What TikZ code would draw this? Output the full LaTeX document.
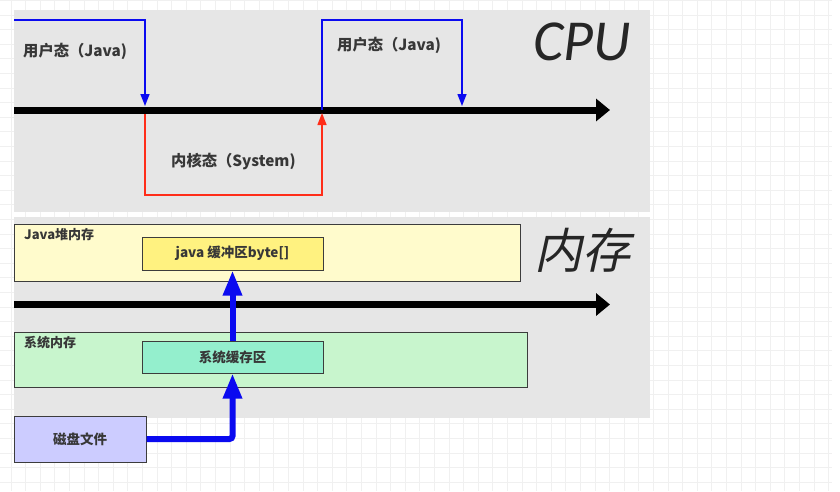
\documentclass[tikz,border=0pt]{standalone}
\usepackage{fontspec}
\setmainfont{Noto Sans CJK SC}
\newfontfamily\titlefont{Carlito}
\newfontfamily\titlecjk{Noto Sans CJK SC}[FakeSlant=0.22]
\usepackage{xcolor}
\usetikzlibrary{arrows.meta,positioning,calc}

\definecolor{panelgray}{RGB}{230,230,230}
\definecolor{gridgray}{RGB}{240,240,240}
\definecolor{labelgray}{RGB}{55,55,55}
\definecolor{userblue}{RGB}{10,10,240}
\definecolor{kernred}{RGB}{255,45,25}
\definecolor{heapyellow}{RGB}{255,251,204}
\definecolor{bufyellow}{RGB}{255,242,128}
\definecolor{sysgreen}{RGB}{200,245,205}
\definecolor{sysaqua}{RGB}{148,239,205}
\definecolor{disklilac}{RGB}{204,204,255}
\definecolor{boxedge}{RGB}{60,60,60}

\begin{document}
\begin{tikzpicture}[x=1pt, y=-1pt, text=labelgray,
        font=\bfseries\fontsize{13.5}{16}\selectfont,
        tag/.style={anchor=west, inner sep=0pt},
        bigtag/.style={tag, font=\bfseries\fontsize{15.3}{18}\selectfont},
        smalltag/.style={tag, font=\bfseries\fontsize{13}{15}\selectfont},
        timeaxis/.style={line width=7pt, -{Triangle[length=14pt,width=22pt]}},
        userline/.style={draw=userblue, line width=1.4pt, -{Triangle[length=12pt,width=9pt]}},
        kernline/.style={draw=kernred, line width=1.4pt, -{Triangle[length=12pt,width=9pt]}},
        membox/.style={draw=boxedge, line width=1pt, inner sep=0pt},
        copyarrow/.style={draw=userblue, line width=6pt, -{Triangle[length=25pt,width=18pt]}}]
        \useasboundingbox (0,0) rectangle (840,491);

        % background grid
        \foreach \k in {0,...,56}
            \draw[gridgray, line width=0.8pt] ({10.9+14.6*\k},0) -- ({10.9+14.6*\k},491);
        \foreach \k in {0,...,33}
            \draw[gridgray, line width=0.8pt] (0,{0.4+14.6*\k}) -- (832,{0.4+14.6*\k});

        % panels
        \fill[panelgray] (14,10) rectangle (650,212);
        \fill[panelgray] (14,217) rectangle (650,418);

        % CPU
        \coordinate (cpustart) at (14,110);
        \coordinate (cpuend) at (610,110);
        \draw[timeaxis] (cpustart) -- (cpuend);
        \node[font=\mdseries\titlefont\itshape\fontsize{58}{60}\selectfont, text=black!85] (cpu) at (582,42) {CPU};

        \coordinate (u1start) at (14,20);
        \coordinate (sw1top) at (145,106);
        \coordinate (sw1bot) at (145,114);
        \coordinate (kfloor) at (322,195);
        \coordinate (sw2bot) at (322,113);
        \coordinate (sw2top) at (322,110);
        \coordinate (uroof) at (462,20);
        \coordinate (sw3top) at (462,106);

        \draw[userline] (u1start) -| (sw1top);
        \draw[kernline] (sw1bot) |- (kfloor) -- (sw2bot);
        \draw[userline] (sw2top) |- (uroof) -- (sw3top);

        \node[bigtag] (user1) at (23,51) {用户态（Java)};
        \node[bigtag] (user2) at (337,45) {用户态（Java)};
        \node[bigtag] (kern) at (171,162) {内核态（System)};

        % Memory
        \coordinate (memstart) at (14,304.5);
        \coordinate (memend) at (610,304.5);
        \draw[timeaxis] (memstart) -- (memend);
        \node[font=\mdseries\titlecjk\fontsize{48}{50}\selectfont, text=black!85] (memtitle) at (582,250) {内存};

        \node[membox, fill=heapyellow, minimum width=506pt, minimum height=57pt] (heap) at (267,252.5) {};
        \node[smalltag] (heaplbl) at (24,235) {Java堆内存};
        \node[membox, fill=bufyellow, minimum width=181pt, minimum height=33pt] (jbuf) at (232.5,253.5) {java 缓冲区byte[]};

        \node[membox, fill=sysgreen, minimum width=513pt, minimum height=55pt] (sysmem) at (270.5,359.5) {};
        \node[smalltag] (syslbl) at (24,343) {系统内存};
        \node[membox, fill=sysaqua, minimum width=181pt, minimum height=32pt] (sysbuf) at (232.5,357) {系统缓存区};

        \node[membox, fill=disklilac, minimum width=132pt, minimum height=46pt] (disk) at (80,439) {磁盘文件};

        % copies
        \draw[copyarrow, rounded corners=3pt] (disk.east) -| (sysbuf.south);
        \draw[copyarrow] (sysbuf.north) -- (jbuf.south);
    \end{tikzpicture}
\end{document}
